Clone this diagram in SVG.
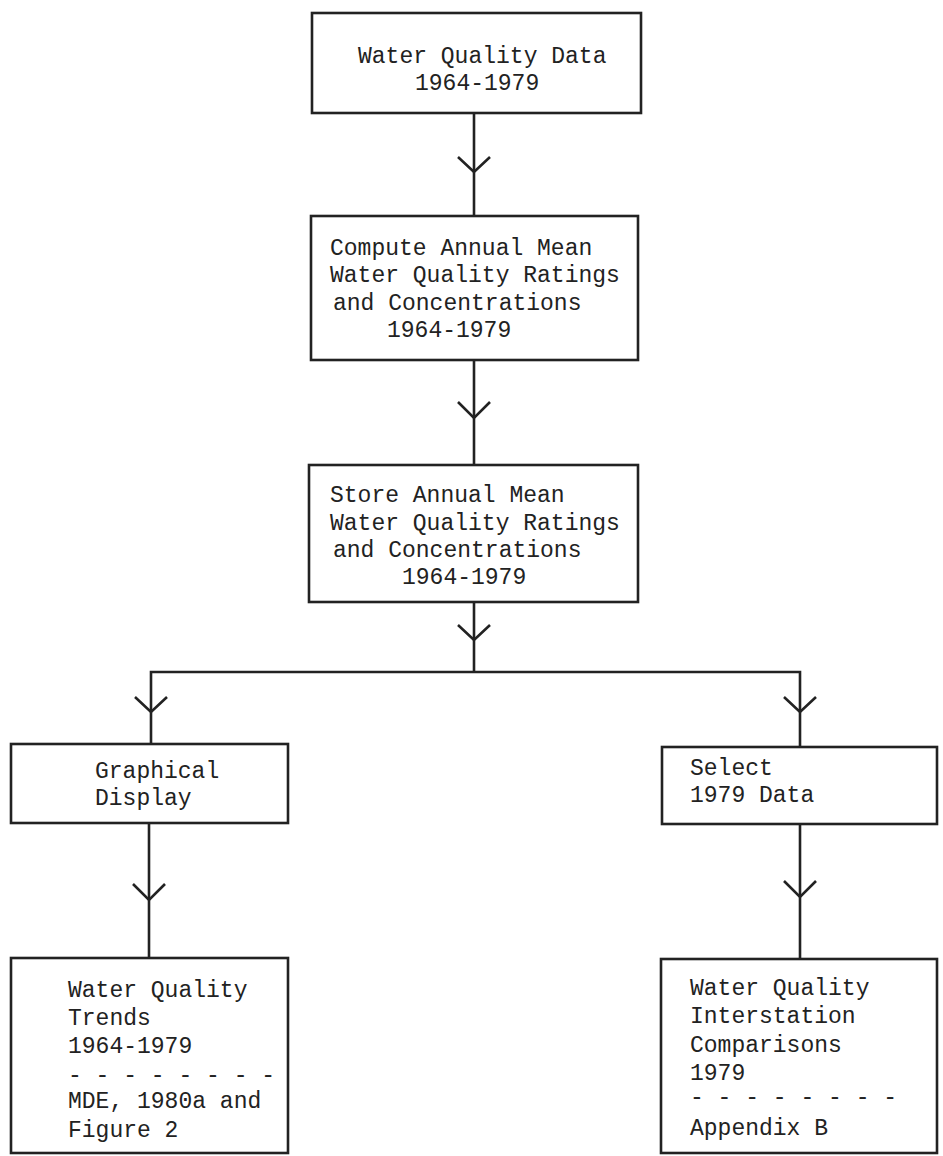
<svg xmlns="http://www.w3.org/2000/svg" width="943" height="1156" viewBox="0 0 943 1156">
<style>
.box{fill:#fff;stroke:#222;stroke-width:2.6}
.ln{fill:none;stroke:#222;stroke-width:2.6}
.chev{fill:none;stroke:#222;stroke-width:2.6;stroke-linejoin:miter}
text{font-family:"Liberation Mono","DejaVu Sans Mono",monospace;font-size:23px;fill:#222}
</style>
<rect width="943" height="1156" fill="#fff"/>
<g id="connectors">
<line class="ln" x1="474" y1="113" x2="474" y2="216"/>
<polyline class="chev" points="458,157 474,172 490,157"/>
<line class="ln" x1="474" y1="360" x2="474" y2="465"/>
<polyline class="chev" points="458,402 474,418 490,402"/>
<line class="ln" x1="474" y1="602" x2="474" y2="672"/>
<polyline class="chev" points="458,625 474,640 490,625"/>
<polyline class="ln" points="151,744 151,672 800,672 800,747"/>
<polyline class="chev" points="135,697 151,712 167,697"/>
<polyline class="chev" points="784,697 800,712 816,697"/>
<line class="ln" x1="149" y1="823" x2="149" y2="958"/>
<polyline class="chev" points="133,884 149,900 165,884"/>
<line class="ln" x1="800" y1="824" x2="800" y2="959"/>
<polyline class="chev" points="784,881 800,897 816,881"/>
</g>
<g id="n1">
<rect class="box" x="312" y="13" width="329" height="100"/>
<text x="358" y="63">Water Quality Data</text>
<text x="415" y="90">1964-1979</text>
</g>
<g id="n2">
<rect class="box" x="311" y="216" width="327" height="144"/>
<text x="330" y="255">Compute Annual Mean</text>
<text x="330" y="282">Water Quality Ratings</text>
<text x="333" y="310">and Concentrations</text>
<text x="387" y="337">1964-1979</text>
</g>
<g id="n3">
<rect class="box" x="309" y="465" width="329" height="137"/>
<text x="330" y="502">Store Annual Mean</text>
<text x="330" y="530">Water Quality Ratings</text>
<text x="333" y="557">and Concentrations</text>
<text x="402" y="584">1964-1979</text>
</g>
<g id="n4">
<rect class="box" x="11" y="744" width="277" height="79"/>
<text x="95" y="778">Graphical</text>
<text x="95" y="805">Display</text>
</g>
<g id="n5">
<rect class="box" x="662" y="747" width="275" height="77"/>
<text x="690" y="775">Select</text>
<text x="690" y="802">1979 Data</text>
</g>
<g id="n6">
<rect class="box" x="11" y="958" width="277" height="195"/>
<text x="68" y="997">Water Quality</text>
<text x="68" y="1025">Trends</text>
<text x="68" y="1053">1964-1979</text>
<text x="68" y="1082">- - - - - - - -</text>
<text x="68" y="1108">MDE, 1980a and</text>
<text x="68" y="1137">Figure 2</text>
</g>
<g id="n7">
<rect class="box" x="661" y="959" width="276" height="194"/>
<text x="690" y="995">Water Quality</text>
<text x="690" y="1023">Interstation</text>
<text x="690" y="1052">Comparisons</text>
<text x="690" y="1080">1979</text>
<text x="690" y="1104">- - - - - - - -</text>
<text x="690" y="1135">Appendix B</text>
</g>
</svg>
